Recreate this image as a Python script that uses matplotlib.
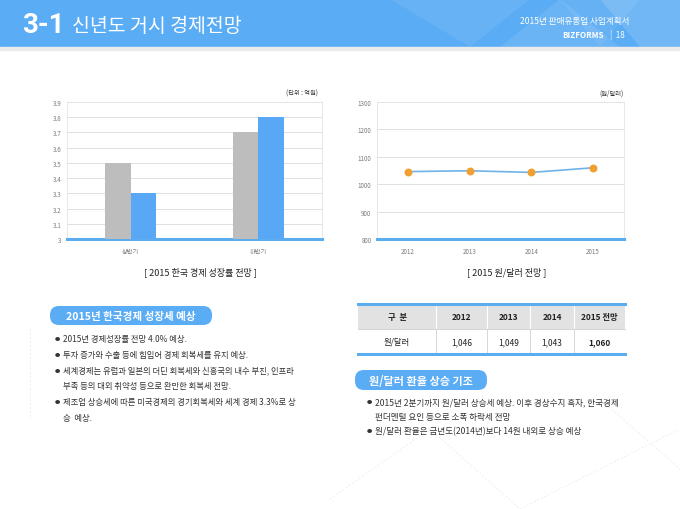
import matplotlib.pyplot as plt
from matplotlib.patches import Rectangle, FancyBboxPatch, Polygon

plt.rcParams['font.family'] = ['Noto Sans CJK KR', 'DejaVu Sans']

W, H = 680, 510

# -------------------------
# Data
# -------------------------
halves = ["상반기", "하반기"]
growth_a = [3.5, 3.7]      # gray bars
growth_b = [3.3, 3.8]      # blue bars
growth_ticks = [3, 3.1, 3.2, 3.3, 3.4, 3.5, 3.6, 3.7, 3.8, 3.9]

years = ["2012", "2013", "2014", "2015"]
won_dollar = [1046, 1049, 1043, 1060]
rate_ticks = [800, 900, 1000, 1100, 1200, 1300]

table_head = ["구  분", "2012", "2013", "2014", "2015 전망"]
table_row_label = "원/달러"

left_bullets = [
    ["2015년 경제성장률 전망 4.0% 예상."],
    ["투자 증가와 수출 등에 힘입어 경제 회복세를 유지 예상."],
    ["세계경제는 유럽과 일본의 더딘 회복세와 신흥국의 내수 부진, 인프라",
     "부족 등의 대외 취약성 등으로 완만한 회복세 전망."],
    ["제조업 상승세에 따른 미국경제의 경기회복세와 세계 경제 3.3%로 상",
     "승  예상."],
]
right_bullets = [
    ["2015년 2분기까지 원/달러 상승세 예상. 이후 경상수지 흑자, 한국경제",
     "펀더멘털 요인 등으로 소폭 하락세 전망"],
    ["원/달러 환율은 금년도(2014년)보다 14원 내외로 상승 예상"],
]

BLUE = "#5aacf4"
GRAY_BAR = "#bdbdbd"
ORANGE = "#f0a030"
LINE_BLUE = "#6fb3e8"
TICK = "#7a7a7a"


def frac(x0, y0, x1, y1):
    # pixel box (top-left origin) -> figure fractions
    return [x0 / W, 1 - y1 / H, (x1 - x0) / W, (y1 - y0) / H]


fig = plt.figure(figsize=(W / 100, H / 100), dpi=100)
fig.patch.set_facecolor("white")

# background canvas in pixel coordinates
bg = fig.add_axes([0, 0, 1, 1], zorder=0)
bg.set_xlim(0, W)
bg.set_ylim(H, 0)
bg.axis("off")

# -------------------------
# Header band
# -------------------------
bg.add_patch(Rectangle((0, 0), W, 48, color=BLUE, zorder=1))
for pts, a in [
    ([(390, 0), (470, 48), (530, 0)], 0.08),
    ([(500, 48), (560, 0), (620, 48)], 0.10),
    ([(600, 0), (680, 0), (680, 48), (640, 48)], 0.14),
    ([(560, 0), (600, 48), (640, 0)], 0.07),
]:
    bg.add_patch(Polygon(pts, closed=True, color="white", alpha=a, zorder=2, lw=0))
bg.add_patch(Rectangle((0, 48), W, 3, color="#ebebeb", zorder=1))

bg.text(22, 33, "3-1", color="white", fontsize=20, fontweight="bold",
        family=["Roboto", "DejaVu Sans"], zorder=3)
bg.text(72, 32, "신년도 거시 경제전망", color="white", fontsize=14, zorder=3)
bg.text(629, 24, "2015년 판매유통업 사업계획서", color="white", fontsize=6.2,
        ha="right", zorder=3)
bg.text(604, 38, "BIZFORMS", color="white", fontsize=5.8, ha="right",
        fontweight="bold", zorder=3)
bg.text(610, 38, "|  18", color="white", fontsize=5.8, ha="left", zorder=3)

# faint decorative lines
for seg in [[(30, 330), (30, 420)], [(520, 510), (680, 430)], [(600, 400), (680, 470)],
            [(330, 500), (430, 430)], [(430, 430), (520, 510)]]:
    xs, ys = zip(*seg)
    bg.plot(xs, ys, color="#efefef", lw=0.7, ls=(0, (2, 2)), zorder=1)

# -------------------------
# Bar chart
# -------------------------
ax1 = fig.add_axes(frac(67, 103, 322, 240), zorder=2)
x = list(range(len(halves)))
bw = 0.2
ax1.bar([i - bw / 2 for i in x], growth_a, bw, color=GRAY_BAR, zorder=3)
ax1.bar([i + bw / 2 for i in x], growth_b, bw, color="#58a8f5", zorder=3)
ax1.set_xlim(-0.5, 1.5)
ax1.set_ylim(3, 3.9)
ax1.set_yticks(growth_ticks)
ax1.set_yticklabels([f"{t:g}" for t in growth_ticks])
ax1.set_xticks(x)
ax1.set_xticklabels(halves)
ax1.grid(axis="y", color="#dcdcdc", lw=0.6, zorder=0)

# -------------------------
# Line chart
# -------------------------
ax2 = fig.add_axes(frac(377, 103, 624, 240), zorder=2)
xl = list(range(len(years)))
ax2.plot(xl, won_dollar, color=LINE_BLUE, lw=1.2, zorder=3)
ax2.scatter(xl, won_dollar, s=22, color=ORANGE, zorder=4)
ax2.set_xlim(-0.5, 3.5)
ax2.set_ylim(800, 1300)
ax2.set_yticks(rate_ticks)
ax2.set_xticks(xl)
ax2.set_xticklabels(years)
ax2.grid(axis="y", color="#dcdcdc", lw=0.6, zorder=0)

for ax in (ax1, ax2):
    ax.set_facecolor("white")
    for s in ("top", "right", "left"):
        ax.spines[s].set_color("#e4e4e4")
        ax.spines[s].set_linewidth(0.6)
    ax.spines["bottom"].set_color("#5aaef0")
    ax.spines["bottom"].set_linewidth(2.2)
    ax.tick_params(length=0, labelsize=4.5, labelcolor=TICK, pad=4)
    ax.tick_params(axis="x", pad=6)
    ax.set_axisbelow(True)

# overlay for text and table
ov = fig.add_axes([0, 0, 1, 1], zorder=5)
ov.set_xlim(0, W)
ov.set_ylim(H, 0)
ov.axis("off")
ov.patch.set_alpha(0)

ov.text(318, 94, "(단위 : 억원)", fontsize=4.5, ha="right", va="center", color="#333333")
ov.text(624, 94, "(원/달러)", fontsize=4.5, ha="right", va="center", color="#333333")
ov.text(200, 272, "[ 2015 한국 경제 성장률 전망 ]", fontsize=6.5, ha="center", va="center",
        color="#222222")
ov.text(507, 272, "[ 2015 원/달러 전망 ]", fontsize=6.5, ha="center", va="center",
        color="#222222")


def pill(x0, y0, x1, y1, label, size):
    ov.add_patch(FancyBboxPatch((x0, y0), x1 - x0, y1 - y0,
                                boxstyle="round,pad=0,rounding_size=9",
                                fc=BLUE, ec="none", mutation_aspect=1))
    ov.text((x0 + x1) / 2, (y0 + y1) / 2 + 0.5, label, fontsize=size, color="white",
            fontweight="bold", ha="center", va="center")


def bullets(x0, y0, items, step, size):
    y = y0
    for lines in items:
        for k, line in enumerate(lines):
            if k == 0:
                ov.text(x0, y, "●", fontsize=3.8, color="#333333", va="center")
            ov.text(x0 + 8, y, line, fontsize=size, color="#333333", va="center")
            y += step


pill(50, 307, 212, 326, "2015년 한국경제 성장세 예상", 7.6)
bullets(55, 340, left_bullets, 15.6, 6.0)

# table
cols = [358, 436, 487, 530, 574, 625]
ty0, ty1, ty2 = 305, 330, 355
ov.add_patch(Rectangle((cols[0], ty0), cols[-1] - cols[0], ty1 - ty0, fc="#e2e2e2", ec="none"))
for cx in cols[1:-1]:
    ov.plot([cx, cx], [ty0, ty2], color="white", lw=0.8)
    ov.plot([cx, cx], [ty1, ty2], color="#d0d0d0", lw=0.6)
ov.plot([cols[0], cols[-1]], [ty0, ty0], color="#5aaef0", lw=2.2)
ov.plot([cols[0], cols[-1]], [ty2, ty2], color="#5aaef0", lw=2.2)
ov.plot([cols[0], cols[-1]], [ty1, ty1], color="#cfcfcf", lw=0.6)
row = [table_row_label] + [f"{v:,}" for v in won_dollar]
for i in range(len(table_head)):
    cx = (cols[i] + cols[i + 1]) / 2
    ov.text(cx, (ty0 + ty1) / 2, table_head[i], fontsize=6, fontweight="bold",
            ha="center", va="center", color="#222222")
    ov.text(cx, (ty1 + ty2) / 2, row[i], fontsize=6,
            fontweight="bold" if i == len(row) - 1 else "normal",
            ha="center", va="center", color="#222222")

pill(355, 371, 487, 391, "원/달러 환율 상승 기조", 8)
bullets(367, 403, right_bullets, 14.5, 6.2)

fig.savefig("out.png", dpi=100, facecolor="white")
